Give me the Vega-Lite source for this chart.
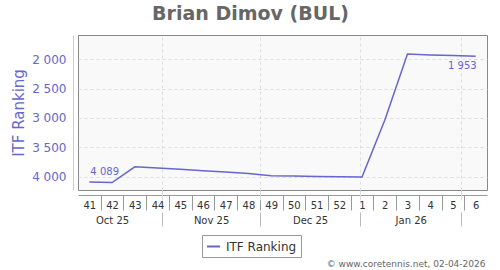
{
  "$schema": "https://vega.github.io/schema/vega-lite/v6.json",
  "width": 409,
  "height": 155,
  "autosize": {"type": "none"},
  "padding": {"left": 78, "top": 35, "right": 13, "bottom": 80},
  "title": {
    "text": "Brian Dimov (BUL)",
    "fontSize": 19,
    "fontWeight": "bold",
    "color": "#666666",
    "anchor": "middle",
    "frame": "group",
    "dx": -32,
    "dy": 18,
    "offset": 14,
    "baseline": "alphabetic"
  },
  "config": {
    "font": "DejaVu Sans",
    "locale": {"number": {"decimal": ".", "thousands": " ", "grouping": [3], "currency": ["", ""]}},
    "view": {"fill": "#f9f9f9", "stroke": "#888888", "strokeWidth": 1},
    "axis": {
      "labelFont": "DejaVu Sans",
      "labelFontSize": 10,
      "labelColor": "#333333",
      "labelOverlap": false,
      "labelFlush": false,
      "labelBound": false,
      "domainColor": "#999999",
      "tickColor": "#999999",
      "gridColor": "#dddddd",
      "gridDash": [3, 3],
      "titleFont": "DejaVu Sans"
    },
    "legend": {
      "orient": "none",
      "legendX": 124,
      "legendY": 200,
      "symbolType": "stroke",
      "symbolSize": 169,
      "symbolStrokeWidth": 2,
      "labelFontSize": 12,
      "labelColor": "#333333",
      "labelFont": "DejaVu Sans",
      "strokeColor": "#999999",
      "fillColor": "#ffffff",
      "padding": 4,
      "labelOffset": 5
    }
  },
  "data": {
    "values": [
      {"date": "2025-10-09T12:00:00Z", "rank": 4089},
      {"date": "2025-10-16T12:00:00Z", "rank": 4098},
      {"date": "2025-10-23T12:00:00Z", "rank": 3830},
      {"date": "2025-10-30T12:00:00Z", "rank": 3852},
      {"date": "2025-11-06T12:00:00Z", "rank": 3874},
      {"date": "2025-11-13T12:00:00Z", "rank": 3897},
      {"date": "2025-11-20T12:00:00Z", "rank": 3918},
      {"date": "2025-11-27T12:00:00Z", "rank": 3943},
      {"date": "2025-12-04T12:00:00Z", "rank": 3981},
      {"date": "2025-12-11T12:00:00Z", "rank": 3988},
      {"date": "2025-12-18T12:00:00Z", "rank": 3995},
      {"date": "2025-12-25T12:00:00Z", "rank": 4000},
      {"date": "2026-01-01T12:00:00Z", "rank": 4004},
      {"date": "2026-01-08T12:00:00Z", "rank": 3040},
      {"date": "2026-01-15T12:00:00Z", "rank": 1912},
      {"date": "2026-01-22T12:00:00Z", "rank": 1928},
      {"date": "2026-01-29T12:00:00Z", "rank": 1940},
      {"date": "2026-02-05T12:00:00Z", "rank": 1953}
    ],
    "format": {"parse": {"date": "date"}}
  },
  "encoding": {
    "y": {
      "field": "rank",
      "type": "quantitative",
      "scale": {"domain": [1590, 4225], "reverse": true, "nice": false, "zero": false},
      "axis": {
        "values": [2000, 2500, 3000, 3500, 4000],
        "format": ",d",
        "title": "ITF Ranking",
        "titleFontSize": 15,
        "titleFontWeight": "normal",
        "titleColor": "#6666cc",
        "titlePadding": 5,
        "labelFontSize": 12,
        "labelColor": "#6666cc",
        "labelPadding": 7,
        "ticks": false,
        "tickSize": 0,
        "offset": 5,
        "domainColor": "#c8c8ec",
        "grid": true,
        "gridDash": [3, 3],
        "gridColor": "#dddddd"
      }
    }
  },
  "layer": [
    {
      "mark": {"type": "line", "strokeWidth": 1.5},
      "encoding": {
        "x": {
          "field": "date",
          "type": "temporal",
          "scale": {"type": "utc", "domain": [{"year": 2025, "month": 10, "date": 6, "utc": true}, {"year": 2026, "month": 2, "date": 9, "utc": true}]},
          "axis": {
            "orient": "bottom",
            "title": null,
            "values": [
              {"year": 2025, "month": 10, "date": 13, "utc": true},
              {"year": 2025, "month": 10, "date": 20, "utc": true},
              {"year": 2025, "month": 10, "date": 27, "utc": true},
              {"year": 2025, "month": 11, "date": 3, "utc": true},
              {"year": 2025, "month": 11, "date": 10, "utc": true},
              {"year": 2025, "month": 11, "date": 17, "utc": true},
              {"year": 2025, "month": 11, "date": 24, "utc": true},
              {"year": 2025, "month": 12, "date": 1, "utc": true},
              {"year": 2025, "month": 12, "date": 8, "utc": true},
              {"year": 2025, "month": 12, "date": 15, "utc": true},
              {"year": 2025, "month": 12, "date": 22, "utc": true},
              {"year": 2025, "month": 12, "date": 29, "utc": true},
              {"year": 2026, "month": 1, "date": 5, "utc": true},
              {"year": 2026, "month": 1, "date": 12, "utc": true},
              {"year": 2026, "month": 1, "date": 19, "utc": true},
              {"year": 2026, "month": 1, "date": 26, "utc": true},
              {"year": 2026, "month": 2, "date": 2, "utc": true}
            ],
            "labels": false,
            "grid": false,
            "domain": true,
            "ticks": true,
            "tickSize": 15,
            "offset": 5
          }
        },
        "color": {
          "datum": "ITF Ranking",
          "type": "nominal",
          "scale": {"range": ["#6666cc"]},
          "legend": {"title": null}
        }
      }
    },
    {
      "transform": [{"filter": "utcmonth(datum.date) == 9 && utcdate(datum.date) == 9"}],
      "mark": {"type": "text", "align": "left", "baseline": "alphabetic", "dx": 1, "dy": -7, "fontSize": 10, "color": "#6666cc"},
      "encoding": {
        "x": {
          "field": "date",
          "type": "temporal",
          "scale": {"type": "utc", "domain": [{"year": 2025, "month": 10, "date": 6, "utc": true}, {"year": 2026, "month": 2, "date": 9, "utc": true}]},
          "axis": {
            "orient": "bottom",
            "title": null,
            "values": [
              {"year": 2025, "month": 10, "date": 9, "hours": 12, "utc": true},
              {"year": 2025, "month": 10, "date": 16, "hours": 12, "utc": true},
              {"year": 2025, "month": 10, "date": 23, "hours": 12, "utc": true},
              {"year": 2025, "month": 10, "date": 30, "hours": 12, "utc": true},
              {"year": 2025, "month": 11, "date": 6, "hours": 12, "utc": true},
              {"year": 2025, "month": 11, "date": 13, "hours": 12, "utc": true},
              {"year": 2025, "month": 11, "date": 20, "hours": 12, "utc": true},
              {"year": 2025, "month": 11, "date": 27, "hours": 12, "utc": true},
              {"year": 2025, "month": 12, "date": 4, "hours": 12, "utc": true},
              {"year": 2025, "month": 12, "date": 11, "hours": 12, "utc": true},
              {"year": 2025, "month": 12, "date": 18, "hours": 12, "utc": true},
              {"year": 2025, "month": 12, "date": 25, "hours": 12, "utc": true},
              {"year": 2026, "month": 1, "date": 1, "hours": 12, "utc": true},
              {"year": 2026, "month": 1, "date": 8, "hours": 12, "utc": true},
              {"year": 2026, "month": 1, "date": 15, "hours": 12, "utc": true},
              {"year": 2026, "month": 1, "date": 22, "hours": 12, "utc": true},
              {"year": 2026, "month": 1, "date": 29, "hours": 12, "utc": true},
              {"year": 2026, "month": 2, "date": 5, "hours": 12, "utc": true}
            ],
            "labelExpr": "floor((utcdayofyear(datum.value) - 1) / 7) + 1",
            "grid": false,
            "domain": false,
            "ticks": false,
            "tickSize": 0,
            "labelPadding": 5,
            "offset": 5
          }
        },
        "text": {"field": "rank", "type": "quantitative", "format": ",d"}
      }
    },
    {
      "transform": [{"filter": "utcmonth(datum.date) == 1 && utcdate(datum.date) == 5"}],
      "mark": {"type": "text", "align": "right", "baseline": "alphabetic", "dx": 1, "dy": 13, "fontSize": 10, "color": "#6666cc"},
      "encoding": {
        "x": {
          "field": "date",
          "type": "temporal",
          "scale": {"type": "utc", "domain": [{"year": 2025, "month": 10, "date": 6, "utc": true}, {"year": 2026, "month": 2, "date": 9, "utc": true}]},
          "axis": {
            "orient": "bottom",
            "title": null,
            "values": [
              {"year": 2025, "month": 11, "date": 1, "utc": true},
              {"year": 2025, "month": 12, "date": 1, "utc": true},
              {"year": 2026, "month": 1, "date": 1, "utc": true},
              {"year": 2026, "month": 2, "date": 1, "utc": true}
            ],
            "labels": false,
            "grid": true,
            "gridDash": [3, 3],
            "gridColor": "#dddddd",
            "domain": false,
            "ticks": true,
            "tickSize": 10,
            "tickColor": "#dddddd",
            "offset": 0
          }
        },
        "text": {"field": "rank", "type": "quantitative", "format": ",d"}
      }
    },
    {
      "mark": {"type": "text", "text": ""},
      "encoding": {
        "x": {
          "field": "date",
          "type": "temporal",
          "scale": {"type": "utc", "domain": [{"year": 2025, "month": 10, "date": 6, "utc": true}, {"year": 2026, "month": 2, "date": 9, "utc": true}]},
          "axis": {
            "orient": "bottom",
            "title": null,
            "values": [
              {"year": 2025, "month": 11, "date": 1, "utc": true},
              {"year": 2025, "month": 12, "date": 1, "utc": true},
              {"year": 2026, "month": 1, "date": 1, "utc": true},
              {"year": 2026, "month": 2, "date": 1, "utc": true}
            ],
            "labels": false,
            "grid": false,
            "domain": false,
            "ticks": true,
            "tickSize": 14,
            "tickColor": "#bbbbbb",
            "offset": 22
          }
        }
      }
    },
    {
      "mark": {"type": "text", "text": ""},
      "encoding": {
        "x": {
          "field": "date",
          "type": "temporal",
          "scale": {"type": "utc", "domain": [{"year": 2025, "month": 10, "date": 6, "utc": true}, {"year": 2026, "month": 2, "date": 9, "utc": true}]},
          "axis": {
            "orient": "bottom",
            "values": [
              {"year": 2025, "month": 10, "date": 16, "hours": 12, "utc": true},
              {"year": 2025, "month": 11, "date": 16, "utc": true},
              {"year": 2025, "month": 12, "date": 16, "hours": 12, "utc": true},
              {"year": 2026, "month": 1, "date": 16, "hours": 12, "utc": true}
            ],
            "labelExpr": "utcFormat(datum.value, '%b %y')",
            "grid": false,
            "domain": false,
            "ticks": false,
            "tickSize": 0,
            "labelPadding": 20,
            "offset": 5,
            "title": "© www.coretennis.net, 02-04-2026",
            "titleX": 407,
            "titleY": 71,
            "titleAlign": "right",
            "titleAnchor": "end",
            "titleBaseline": "alphabetic",
            "titleFontSize": 9,
            "titleFontWeight": "normal",
            "titleColor": "#666666"
          }
        }
      }
    }
  ],
  "resolve": {"axis": {"x": "independent"}}
}
